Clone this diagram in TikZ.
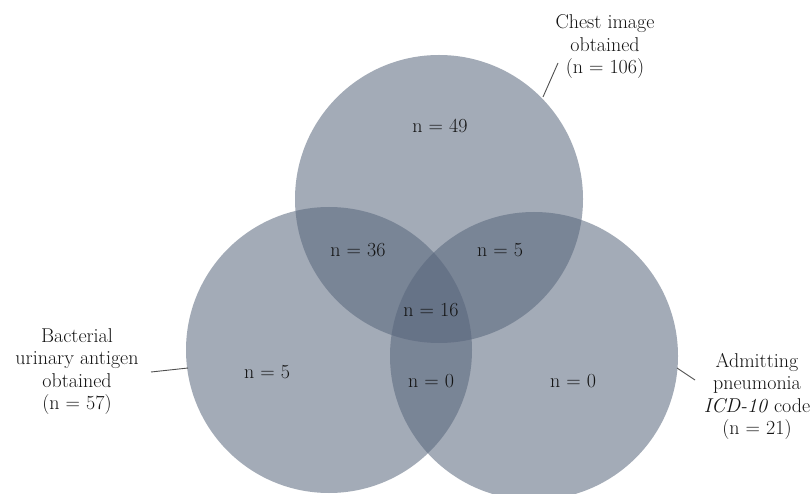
\documentclass[tikz,border=0pt]{standalone}
\usepackage{fontspec}
\definecolor{venncol}{RGB}{88,102,124}
\definecolor{txtcol}{RGB}{20,20,20}
\definecolor{leadcol}{RGB}{80,80,80}
\begin{document}
\begin{tikzpicture}[x=1pt,y=-1pt,
  venn/.style={fill=venncol,fill opacity=0.55},
  cnt/.style={text=txtcol,font=\fontsize{20}{22.5}\selectfont,inner sep=0pt},
  lbl/.style={text=txtcol,font=\fontsize{20}{22.5}\selectfont,align=center,inner sep=0pt},
  leader/.style={draw=leadcol,line width=0.9pt}]
\useasboundingbox (0,0) rectangle (811,494);
\clip (0,0) rectangle (811,494);
\fill[white] (0,0) rectangle (811,494);
\fill[venn] (439,199) circle[radius=144pt];
\fill[venn] (329,350) circle[radius=143pt];
\fill[venn] (534,356) circle[radius=144pt];
% counts
\node[cnt] (n49) at (440,126) {n = 49};
\node[cnt] (n36) at (358,250) {n = 36};
\node[cnt] (n5a) at (500,250) {n = 5};
\node[cnt] (n16) at (431,310) {n = 16};
\node[cnt] (n5b) at (267,372) {n = 5};
\node[cnt] (n0a) at (431,381) {n = 0};
\node[cnt] (n0b) at (573,381) {n = 0};
% set labels
\node[lbl] (chest) at (605,47) {Chest image\\obtained\\(n = 106)};
\node[lbl] (bact) at (77,371.5) {Bacterial\\urinary antigen\\obtained\\(n = 57)};
\node[lbl] (adm) at (757,396.5) {Admitting\\pneumonia\\\textit{ICD-10} code\\(n = 21)};
% leaders
\coordinate (c1a) at (543,97);
\coordinate (c1b) at (558,63);
\coordinate (c2a) at (188,368);
\coordinate (c2b) at (151,372);
\coordinate (c3a) at (677,368);
\coordinate (c3b) at (695,380);
\draw[leader] (c1a) -- (c1b);
\draw[leader] (c2a) -- (c2b);
\draw[leader] (c3a) -- (c3b);
\end{tikzpicture}
\end{document}
